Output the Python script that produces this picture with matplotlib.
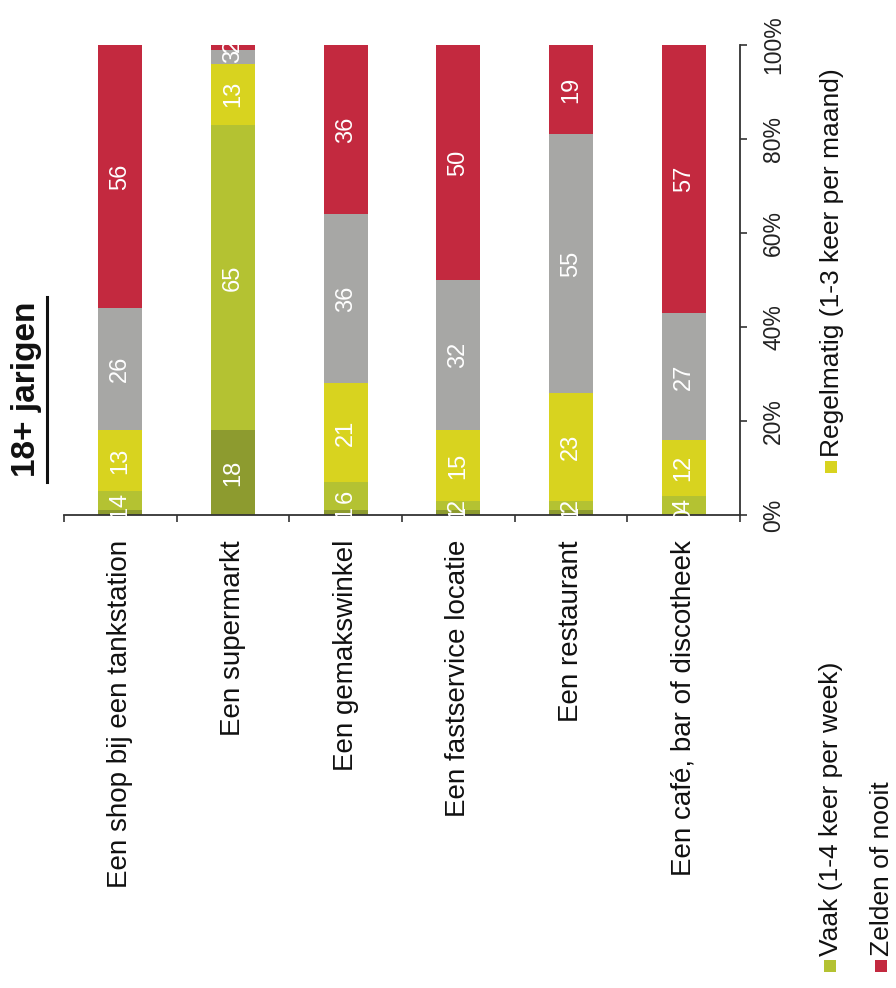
import matplotlib
matplotlib.use("Agg")
import matplotlib.pyplot as plt
from matplotlib.patches import Rectangle
from matplotlib.lines import Line2D
import numpy as np

plt.rcParams['font.family'] = ['Liberation Sans', 'DejaVu Sans']

categories = ["Een shop bij een tankstation", "Een supermarkt", "Een gemakswinkel",
              "Een fastservice locatie", "Een restaurant", "Een café, bar of discotheek"]
series_names = ["Dagelijks", "Vaak (1-4 keer per week)", "Regelmatig (1-3 keer per maand)",
                "Af en toe", "Zelden of nooit"]
dagelijks  = [1, 18, 1, 1, 1, 0]
vaak       = [4, 65, 6, 2, 2, 4]
regelmatig = [13, 13, 21, 15, 23, 12]
af_en_toe  = [26, 3, 36, 32, 55, 27]
zelden     = [56, 2, 36, 50, 19, 57]
series = [dagelijks, vaak, regelmatig, af_en_toe, zelden]
colors = ["#8d9b2f", "#b4c232", "#d8d31f", "#a7a7a5", "#c3293f"]
ytick_vals = [0, 20, 40, 60, 80, 100]
ytick_labels = ["0%", "20%", "40%", "60%", "80%", "100%"]
title = "18+ jarigen"

W, H = 896, 988
fig = plt.figure(figsize=(W / 100, H / 100), dpi=100)

def fx(x):
    return x / W

def fy(y):
    return 1 - y / H

ax = fig.add_axes([fx(64), fy(515), fx(740) - fx(64), fy(45) - fy(515)])

x = np.arange(len(categories))
bottom = np.zeros(len(categories))
for vals, col in zip(series, colors):
    v = np.array(vals, dtype=float)
    ax.bar(x, v, bottom=bottom, width=0.39, color=col, edgecolor='none', zorder=2)
    for xi, b, vi in zip(x, bottom, v):
        ax.text(xi, b + vi / 2, f"{int(vi)}", rotation=90, ha='center', va='center',
                color='white', fontsize=17, zorder=3, clip_on=False)
    bottom += v

ax.set_xlim(-0.5, len(categories) - 0.5)
ax.set_ylim(0, 100)

for s in ['top', 'left']:
    ax.spines[s].set_visible(False)
for s in ['right', 'bottom']:
    ax.spines[s].set_color('#333333')
    ax.spines[s].set_linewidth(1.3)

ax.yaxis.tick_right()
ax.set_yticks(ytick_vals)
ax.set_yticklabels(ytick_labels, rotation=90, va='center', ha='left', fontsize=16.5)
ax.tick_params(axis='y', direction='out', length=5, width=1.2, pad=11, colors='#333333',
               labelcolor='#222222')

ax.set_xticks(x)
ax.set_xticklabels(categories, rotation=90, ha='center', va='top', fontsize=20)
ax.set_xticks(np.arange(-0.5, len(categories) - 0.4, 1.0), minor=True)
ax.tick_params(axis='x', which='major', length=0, pad=18, labelcolor='#111111')
ax.tick_params(axis='x', which='minor', direction='out', length=5, width=1.2, colors='#333333')

# Title (rotated) with underline, left of the plot
fig.text(fx(26), fy(389), title, rotation=90, ha='center', va='center',
         fontsize=24, fontweight='bold', color='#111111')
fig.add_artist(Line2D([fx(47), fx(47)], [fy(297), fy(482)], color='#111111', lw=2.2))

# Legend (rotated, manual)
def legend_item(xc, ybottom, color, label):
    s = 12
    fig.add_artist(Rectangle((fx(xc - s / 2), fy(ybottom + 10)), s / W, s / H,
                             facecolor=color, edgecolor='none', transform=fig.transFigure))
    fig.text(fx(xc + 1), fy(ybottom - 6), label, rotation=90, ha='center', va='bottom',
             fontsize=19, color='#111111')

legend_item(830, 962, colors[1], series_names[1])
legend_item(831, 463, colors[2], series_names[2])
legend_item(881, 962, colors[4], series_names[4])

fig.savefig("out.png", dpi=100)
